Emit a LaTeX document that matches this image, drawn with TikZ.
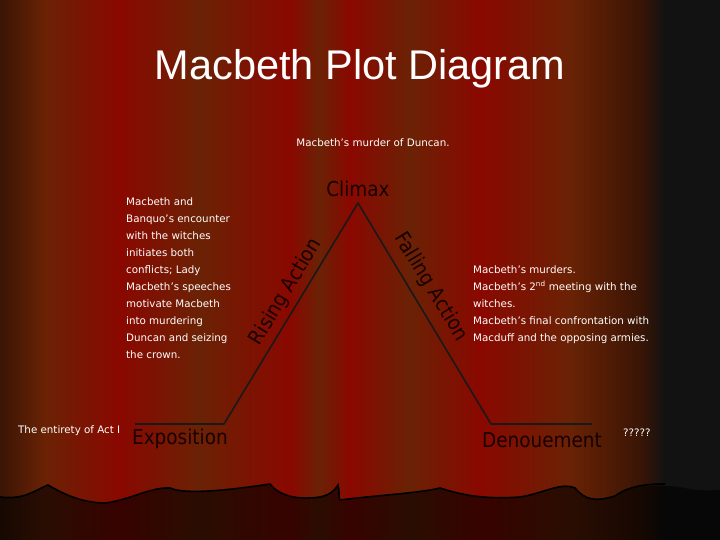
\documentclass[tikz,border=0pt]{standalone}
\usepackage{fontspec}
\setmainfont{Liberation Sans}
\newfontfamily\cond{DejaVu Sans Condensed}
\newfontfamily\dv{DejaVu Sans}
\begin{document}
\begin{tikzpicture}[x=1pt,y=-1pt,
  body/.style={text=white,font=\dv\fontsize{10.3}{17}\selectfont,align=left,inner sep=0pt},
  lbl/.style={font=\cond\fontsize{20.5}{22}\selectfont,text=black!90!red,inner sep=0pt},
  plot/.style={draw=black!90,line width=1.6pt}]
\useasboundingbox (0,0) rectangle (720,540);
\definecolor{cd}{HTML}{3A1505}\definecolor{cb}{HTML}{6A2205}\definecolor{cr}{HTML}{8A0800}\definecolor{ck}{HTML}{121212}
\shade[left color=cd,right color=cb,shading angle=90] (0,0) rectangle (45,540);
\shade[left color=cb,right color=cr,shading angle=90] (44.5,0) rectangle (120,540);
\shade[left color=cr,right color=cb,shading angle=90] (119.5,0) rectangle (200,540);
\shade[left color=cb,right color=cr,shading angle=90] (199.5,0) rectangle (290,540);
\shade[left color=cr,right color=cb,shading angle=90] (289.5,0) rectangle (320,540);
\shade[left color=cb,right color=cr,shading angle=90] (319.5,0) rectangle (350,540);
\shade[left color=cr,right color=cb,shading angle=90] (349.5,0) rectangle (410,540);
\shade[left color=cb,right color=cr,shading angle=90] (409.5,0) rectangle (480,540);
\shade[left color=cr,right color=cb,shading angle=90] (479.5,0) rectangle (570,540);
\shade[left color=cb,right color=cd,shading angle=90] (569.5,0) rectangle (640,540);
\shade[left color=cd,right color=ck,shading angle=90] (639.5,0) rectangle (665,540);
\fill[ck] (664.5,0) rectangle (720,540);
% stage floor
\fill[black,opacity=0.6] (0,497) .. controls (25,500) and (35,490) .. (48,485) .. controls (60,492) and (80,503) .. (105,503) .. controls (130,500) and (150,487) .. (170,488) .. controls (185,495) and (230,490) .. (270,484) .. controls (280,497) and (300,500) .. (320,497) .. controls (330,495) and (335,490) .. (338,485) .. controls (340,492) and (338,497) .. (340,500) .. controls (380,495) and (420,493) .. (440,488) .. controls (455,493) and (480,500) .. (520,497) .. controls (545,493) and (560,482) .. (575,488) .. controls (585,500) and (595,502) .. (615,496) .. controls (630,485) and (650,484) .. (680,487) .. controls (700,492) and (710,490) .. (720,490) -- (720,540) -- (0,540) -- cycle;
\draw[black,line width=1.6pt] (0,497) .. controls (25,500) and (35,490) .. (48,485) .. controls (60,492) and (80,503) .. (105,503) .. controls (130,500) and (150,487) .. (170,488) .. controls (185,495) and (230,490) .. (270,484) .. controls (280,497) and (300,500) .. (320,497) .. controls (330,495) and (335,490) .. (338,485) .. controls (340,492) and (338,497) .. (340,500) .. controls (380,495) and (420,493) .. (440,488) .. controls (455,493) and (480,500) .. (520,497) .. controls (545,493) and (560,482) .. (575,488) .. controls (585,500) and (595,502) .. (615,496) .. controls (630,485) and (650,484) .. (665,484);
% title
\node[text=white,font=\fontsize{41.5}{44}\selectfont] (title) at (360,69) {Macbeth Plot Diagram};
\node[body] (murder) at (373,143) {Macbeth’s murder of Duncan.};
% plot
\coordinate (e0) at (135,424);
\coordinate (e1) at (224,424);
\coordinate (apex) at (358,203);
\coordinate (d0) at (491,424);
\coordinate (d1) at (592,424);
\draw[plot,line join=round] (e0) -- (e1) -- (apex) -- (d0) -- (d1);
\node[lbl] (climax) at (358,189) {Climax};
\node[lbl] (expo) at (180,439) {Exposition};
\node[lbl] (deno) at (542,440) {Denouement};
\node[lbl,rotate=58.7] (rising) at (286,292) {Rising Action};
\node[lbl,rotate=-58.7] (falling) at (431,287) {Falling Action};
\node[body,anchor=north west] (left) at (126,197) {Macbeth and\\Banquo’s encounter\\with the witches\\initiates both\\conflicts; Lady\\Macbeth’s speeches\\motivate Macbeth\\into murdering\\Duncan and seizing\\the crown.};
\node[body,anchor=north west] (right) at (473,265) {Macbeth’s murders.\\Macbeth’s 2\textsuperscript{nd} meeting with the\\witches.\\Macbeth’s final confrontation with\\Macduff and the opposing armies.};
\node[body,anchor=west] (act) at (18,431) {The entirety of Act I};
\node[body,anchor=west] (q) at (623,433) {?????};
\end{tikzpicture}
\end{document}
